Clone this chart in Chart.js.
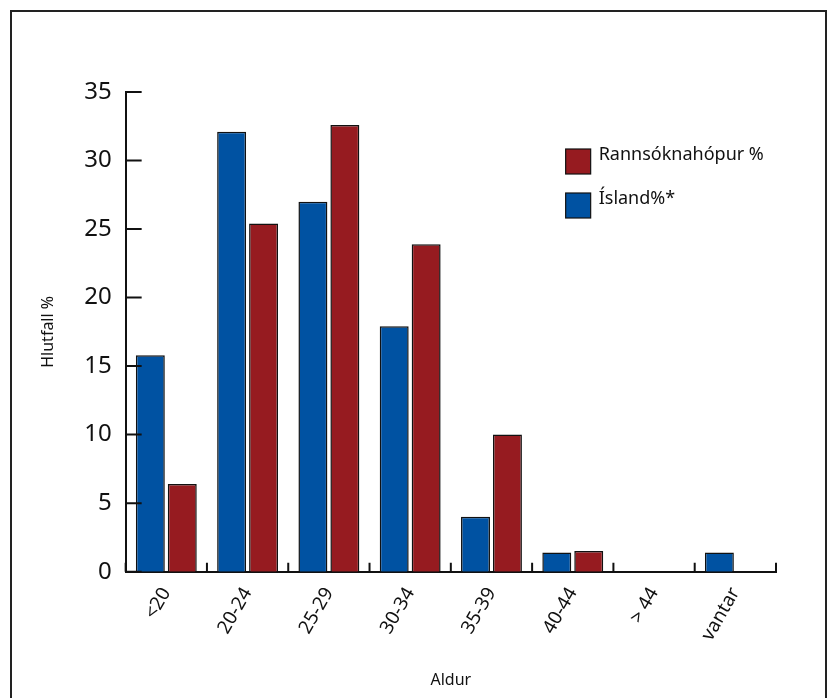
<!DOCTYPE html>
<html>
<head>
<meta charset="utf-8">
<script src="https://cdn.jsdelivr.net/npm/chart.js@4.4.0/dist/chart.umd.min.js"></script>
<style>
  html, body { margin: 0; padding: 0; background: #fff; overflow: hidden; }
  #frame { position: absolute; left: 10px; top: 10px; width: 813px; height: 720px; border: 2px solid #222; }
  #wrap { position: absolute; left: 0; top: 0; width: 829px; height: 698px; }
</style>
</head>
<body>
<div id="frame"></div>
<div id="wrap"><canvas id="myChart"></canvas></div>
<script>
const ageGroups = ["<20", "20-24", "25-29", "30-34", "35-39", "40-44", "> 44", "vantar"];
const islandValues = [15.8, 32.1, 27.0, 17.9, 4.0, 1.4, 0, 1.4];
const studyValues = [6.4, 25.4, 32.6, 23.9, 10.0, 1.5, 0, 0];
const yTicks = [0, 5, 10, 15, 20, 25, 30, 35];

const blue = "rgb(0, 82, 162)";
const red = "rgb(150, 27, 32)";

// inward tick marks like the original figure
const axisTicks = {
    id: 'axisTicks',
    afterDatasetsDraw(chart) {
        const ctx = chart.ctx;
        const x = chart.scales.x, y = chart.scales.y;
        const area = chart.chartArea;
        ctx.save();
        ctx.strokeStyle = '#111';
        ctx.lineWidth = 2;
        ctx.beginPath();
        yTicks.forEach(v => {
            const py = y.getPixelForValue(v);
            ctx.moveTo(area.left, py);
            ctx.lineTo(area.left + 16, py);
        });
        for (let i = 0; i <= ageGroups.length; i++) {
            let px;
            if (i === 0) px = area.left;
            else if (i === ageGroups.length) px = area.right;
            else px = (x.getPixelForValue(i - 1) + x.getPixelForValue(i)) / 2;
            ctx.moveTo(px, area.bottom);
            ctx.lineTo(px, area.bottom - 9);
        }
        ctx.stroke();
        ctx.restore();
    }
};

const boxLegend = {
    id: 'boxLegend',
    afterDraw(chart) {
        const ctx = chart.ctx;
        const area = chart.chartArea;
        const items = [chart.data.datasets[1], chart.data.datasets[0]];
        ctx.save();
        ctx.font = '18px "Noto Sans"';
        ctx.textBaseline = 'middle';
        items.forEach((ds, i) => {
            const bx = area.left + 440;
            const by = area.top + 57 + i * 44;
            ctx.fillStyle = ds.backgroundColor;
            ctx.fillRect(bx, by, 25, 25);
            ctx.strokeStyle = '#111';
            ctx.lineWidth = 1.2;
            ctx.strokeRect(bx, by, 25, 25);
            ctx.fillStyle = '#111';
            ctx.fillText(ds.label, bx + 33, by + 6);
        });
        ctx.restore();
    }
};

new Chart(document.getElementById('myChart'), {
    type: 'bar',
    data: {
        labels: ageGroups,
        datasets: [{
            label: "Ísland%*",
            data: islandValues,
            backgroundColor: blue,
            borderColor: '#111',
            borderWidth: 1.5
        }, {
            label: "Rannsóknahópur %",
            data: studyValues,
            backgroundColor: red,
            borderColor: '#111',
            borderWidth: 1.5
        }]
    },
    options: {
        responsive: true,
        maintainAspectRatio: false,
        animation: false,
        layout: { padding: { left: 35, right: 53, top: 92, bottom: 4 } },
        plugins: {
            legend: { display: false },
            tooltip: { enabled: false }
        },
        datasets: {
            bar: { categoryPercentage: 0.786, barPercentage: 0.906 }
        },
        scales: {
            x: {
                grid: { display: false },
                border: { display: true, color: '#111', width: 2 },
                ticks: {
                    color: '#111',
                    font: { family: 'Noto Sans', size: 19 },
                    minRotation: 60,
                    maxRotation: 60,
                    padding: 4
                },
                title: {
                    display: true,
                    text: 'Aldur',
                    color: '#111',
                    font: { family: 'Noto Sans', size: 16 },
                    padding: { top: 22 }
                }
            },
            y: {
                min: 0,
                max: 35,
                afterBuildTicks(axis) { axis.ticks = yTicks.map(v => ({ value: v })); },
                grid: { display: false },
                border: { display: true, color: '#111', width: 2 },
                ticks: {
                    color: '#111',
                    font: { family: 'Noto Sans', size: 24 },
                    padding: 6
                },
                title: {
                    display: true,
                    text: 'Hlutfall %',
                    color: '#111',
                    font: { family: 'Noto Sans', size: 16 },
                    padding: { bottom: 20 }
                }
            }
        }
    },
    plugins: [axisTicks, boxLegend]
});
</script>
</body>
</html>
